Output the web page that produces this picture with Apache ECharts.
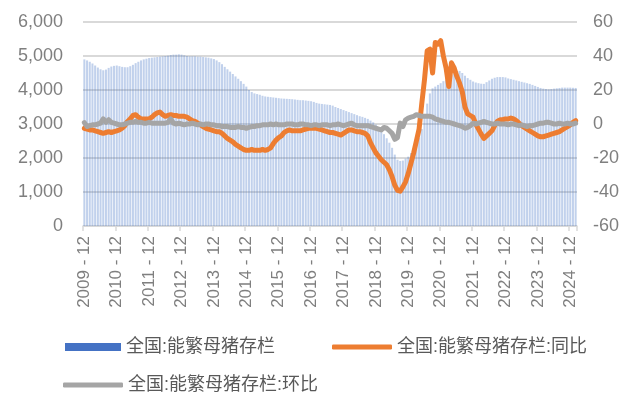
<!DOCTYPE html>
<html>
<head>
<meta charset="utf-8">
<script src="https://cdn.jsdelivr.net/npm/echarts@6/dist/echarts.min.js"></script>
<style>
html,body{margin:0;padding:0;background:#fff;}
#chart{width:627px;height:396px;}
</style>
</head>
<body>
<div id="chart"></div>
<script>
// Monthly categories 2009-12 .. 2025-02
var startYear = 2009, startMonth = 12, monthCount = 183;
var categories = [];
(function(){
  var y = startYear, m = startMonth;
  for (var i = 0; i < monthCount; i++) {
    categories.push(y + '-' + (m < 10 ? '0' + m : '' + m));
    m++; if (m > 12) { m = 1; y++; }
  }
})();

// 全国:能繁母猪存栏 (万头)
var sowStock = [
  4900,
  4870, 4830, 4780, 4720, 4660, 4610, 4580, 4600, 4650, 4690, 4710, 4720,
  4700, 4680, 4670, 4670, 4700, 4740, 4790, 4830, 4870, 4900, 4920, 4940,
  4950, 4960, 4970, 4980, 4990, 5000, 5010, 5030, 5040, 5040, 5050, 5040,
  5020, 5000, 4990, 4990, 4990, 4980, 4980, 4970, 4960, 4950, 4930, 4910,
  4870, 4820, 4760, 4680, 4610, 4540, 4470, 4400, 4330, 4260, 4180, 4100,
  4000, 3940, 3900, 3880, 3860, 3830, 3810, 3800, 3790, 3780, 3770, 3760,
  3750, 3745, 3740, 3735, 3730, 3720, 3710, 3700, 3700, 3690, 3680, 3670,
  3650, 3620, 3600, 3590, 3580, 3570, 3560, 3540, 3500, 3470, 3440, 3410,
  3380, 3350, 3320, 3290, 3260, 3230, 3210, 3180, 3150, 3100, 3050, 2980,
  2900, 2800, 2700, 2580, 2450, 2300, 2100, 1950, 1913, 1924, 1983, 2040,
  2150, 2250, 2400, 2600, 2850, 3200, 3600, 3900, 4050, 4100, 4150, 4200,
  4260, 4310, 4380, 4440, 4500, 4560, 4560, 4500, 4420, 4350, 4300, 4250,
  4220, 4200, 4185, 4180, 4230, 4280, 4330, 4360, 4380, 4380, 4380, 4370,
  4340, 4320, 4300, 4280, 4260, 4240, 4220, 4200, 4180, 4150, 4120, 4090,
  4060, 4040, 4030, 4020, 4030, 4040, 4050, 4060, 4070, 4070, 4070, 4070,
  4065, 4060
];

// 全国:能繁母猪存栏:同比 (%)
var yoy = [
  -2.5,
  -3, -3.5, -3.5, -4, -4.5, -5, -5.5, -5, -4.5, -5, -4.5, -4,
  -3.5, -2.5, -1, 1.5, 3, 5, 5.5, 4, 3, 3, 3, 3,
  4, 5.5, 6.5, 7, 5.5, 4.5, 5, 5.5, 5, 5, 4.5, 4.5,
  4.5, 4, 3, 2, 1.5, 0.5, -0.5, -1.5, -2.5, -3, -3.5, -4,
  -4.5, -4.5, -5.5, -7, -8.5, -9.5, -10.5, -12, -13, -14, -15, -15.5,
  -15.5, -15, -15.5, -15.5, -15.5, -15, -15.5, -15, -14, -11.5, -9.5, -8,
  -7, -5, -4, -3.5, -4, -4, -4, -4, -3.5, -3, -2.5, -2.5,
  -2.5, -2.5, -3, -3.5, -4, -4.5, -5, -5, -5.5, -6, -6.5, -5.5,
  -4.5, -3.5, -3.5, -4, -4.5, -4.5, -5, -5.5, -7, -11, -14, -17,
  -19, -21, -22.5, -24, -27, -31, -36, -39, -39.5, -37, -34, -29,
  -23, -17, -10, -3, 12, 26, 43, 44, 30, 48, 47, 49,
  40, 33, 22, 36, 33, 28, 24, 19, 10, 6, 5, 4,
  0, -3, -6, -8.5, -7, -5.5, -4, -1, 1.5, 2.5, 2.5, 3,
  3, 3.5, 3, 2, 0.5, -1, -2, -3, -4, -5, -6, -7,
  -7.5, -7.5, -7, -6.5, -6, -5.5, -5, -4.5, -3.5, -2.5, -1.5, -0.5,
  1, 2
];

// 全国:能繁母猪存栏:环比 (%)
var mom = [
  0.8,
  -1.5, -1, -0.5, -0.5, 0, 0.5, 3, 1, 2.5, 1, 0.5, 0,
  -0.5, -0.5, 0, 0.5, 1, 1, 1.5, 1, 1, 0.5, 0.5, 1,
  0.5, 0.5, 0.5, 0.5, 0.5, 0.5, 1, 3, 0.5, 0, 0.5, 0,
  -0.5, 0, 0, 0.5, 0, -0.5, 0, -0.5, 0, 0, -0.5, -0.5,
  -1, -1, -1.5, -1.5, -1.5, -2, -2, -2, -1.5, -2, -2, -2.5,
  -2, -1.5, -1.5, -1, -1, -0.5, -0.5, -0.5, 0, -0.5, 0, -0.5,
  -0.5, -0.5, 0, 0, 0, -0.5, -0.5, 0, 0, -0.5, -0.5, -1,
  -0.5, -0.5, -1, -0.5, -0.5, -0.5, -1, -0.5, -0.5, 0, -0.5, -1,
  -0.5, 0, 0.5, -0.5, -1, -1, -1, -1, -1, -1.5, -2, -2.5,
  -3, -3.5, -2, -2.5, -4, -5.5, -9, -8, 0.5, -1.5, 2.5, 3.5,
  4, 4.5, 5.5, 5, 4.5, 4.5, 4.5, 4.5, 4, 3, 2.5, 2,
  1.5, 1, 1, 0.5, 0, -0.5, -1, -1.5, -2.5, -2, -1, 0.5,
  0, 0.5, 1, 1.5, 1, 0.5, 0, 0, 0.5, 0, 0, 0,
  -0.5, 0, 0, -0.5, -1, -0.5, -1, -1.5, -1, -1, -0.5, 0,
  0.5, 0.5, 1, 1, 0.5, 0, 0, 0.5, 0, 0, 0.5, 0,
  0, 0.5
];

var leftTicks = [0, 6000, 1000];
var rightTicks = [-60, 60, 20];
var seriesNames = ['全国:能繁母猪存栏', '全国:能繁母猪存栏:同比', '全国:能繁母猪存栏:环比'];

var FONT = '"Liberation Sans", "Noto Sans CJK SC", sans-serif';
var chart = echarts.init(document.getElementById('chart'), null, {renderer: 'canvas'});

var legendText = {fontSize: 18, color: '#595959', fontFamily: FONT};

chart.setOption({
  animation: false,
  backgroundColor: '#ffffff',
  grid: {left: 83, right: 50, top: 22, bottom: 170, containLabel: false},
  legend: [
    {left: 60, top: 333, itemWidth: 56, itemHeight: 8, itemGap: 0, textStyle: legendText,
     data: [{name: seriesNames[0], icon: 'rect', itemStyle: {color: '#4472c4', opacity: 1}}]},
    {left: 327, top: 333, itemWidth: 60, itemHeight: 5, itemGap: 0, textStyle: legendText,
     data: [{name: seriesNames[1], icon: 'roundRect', itemStyle: {color: '#ed7d31'}}]},
    {left: 58, top: 371, itemWidth: 60, itemHeight: 5, itemGap: 0, textStyle: legendText,
     data: [{name: seriesNames[2], icon: 'roundRect', itemStyle: {color: '#a5a5a5'}}]}
  ],
  xAxis: {
    type: 'category',
    data: categories,
    boundaryGap: true,
    axisLine: {lineStyle: {color: '#d9d9d9', width: 1.5}},
    axisTick: {show: true, interval: 11, length: 5, lineStyle: {color: '#d9d9d9', width: 1.5}},
    axisLabel: {interval: 11, rotate: 90, margin: 10, fontSize: 17, color: '#7f7f7f', fontFamily: FONT,
      formatter: function (v) { return v.replace('-', ' - '); }}
  },
  yAxis: [
    {
      type: 'value', min: leftTicks[0], max: leftTicks[1], interval: leftTicks[2],
      axisLine: {show: false}, axisTick: {show: false},
      splitLine: {lineStyle: {color: '#d9d9d9', width: 2}},
      axisLabel: {fontSize: 18, color: '#7f7f7f', margin: 20, fontFamily: FONT,
        formatter: function (v) { return v.toLocaleString('en-US'); }}
    },
    {
      type: 'value', min: rightTicks[0], max: rightTicks[1], interval: rightTicks[2],
      axisLine: {show: false}, axisTick: {show: false}, splitLine: {show: false},
      axisLabel: {fontSize: 18, color: '#7f7f7f', margin: 16, fontFamily: FONT}
    }
  ],
  series: [
    {
      name: seriesNames[0], type: 'bar', yAxisIndex: 0, data: sowStock,
      barCategoryGap: '25%',
      itemStyle: {color: 'rgba(68,114,196,0.33)'}
    },
    {
      name: seriesNames[1], type: 'line', yAxisIndex: 1, data: yoy,
      showSymbol: false, symbol: 'none',
      lineStyle: {color: '#ed7d31', width: 5, join: 'round', cap: 'round'},
      itemStyle: {color: '#ed7d31'}
    },
    {
      name: seriesNames[2], type: 'line', yAxisIndex: 1, data: mom,
      showSymbol: false, symbol: 'none',
      lineStyle: {color: '#a5a5a5', width: 5, join: 'round', cap: 'round'},
      itemStyle: {color: '#a5a5a5'}
    }
  ]
});
</script>
</body>
</html>
